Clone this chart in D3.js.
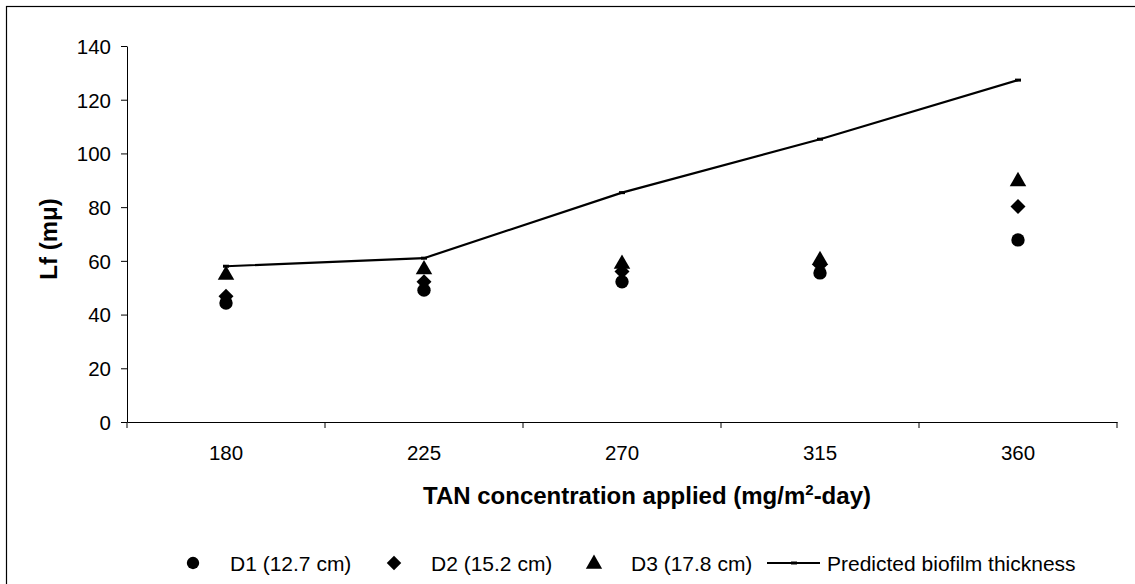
<!DOCTYPE html>
<html><head><meta charset="utf-8">
<script src="https://d3js.org/d3.v7.min.js"></script>
<style>body{margin:0;background:#fff;} text{font-family:"Liberation Sans",Arial,sans-serif;}</style>
</head><body>
<svg id="c" width="1135" height="584"></svg>
<script>
const categories = ["180","225","270","315","360"];
const d1 = [44.3, 49.1, 52.2, 55.5, 67.8];
const d2 = [46.8, 52.2, 56.0, 58.5, 80.2];
const d3v = [54.7, 56.8, 58.8, 60.2, 89.6];
const predicted = [58.0, 61.0, 85.4, 105.3, 127.3];
const yTicks = [0,20,40,60,80,100,120,140];
const seriesNames = ["D1 (12.7 cm)","D2 (15.2 cm)","D3 (17.8 cm)","Predicted biofilm thickness"];

const svg = d3.select("#c");
svg.append("rect").attr("x",6.5).attr("y",6.5).attr("width",1140).attr("height",600)
  .attr("fill","#fff").attr("stroke","#000").attr("stroke-width",1.2);

const L=127, R=1117, T=46, B=422;
const x = d3.scaleBand().domain(categories).range([L,R]);
const y = d3.scaleLinear().domain([0,140]).range([B,T]);
const cx = c => x(c)+x.bandwidth()/2;

// y axis
const ya = svg.append("g").attr("transform",`translate(${L},0)`)
  .call(d3.axisLeft(y).tickValues(yTicks).tickSize(6).tickSizeOuter(0));
ya.select(".domain").attr("stroke","#000");
ya.selectAll(".tick line").attr("stroke","#000");
ya.selectAll(".tick text").attr("font-size",20.5).attr("font-family","Liberation Sans, Arial, sans-serif")
  .attr("fill","#000").attr("x",-16).attr("dy","0.36em");

// x axis
const xa = svg.append("g").attr("transform",`translate(0,${B})`)
  .call(d3.axisBottom(x).tickSize(0).tickSizeOuter(0));
xa.select(".domain").attr("stroke","#000");
xa.selectAll(".tick text").attr("font-size",20.5).attr("font-family","Liberation Sans, Arial, sans-serif")
  .attr("fill","#000").attr("y",0).attr("dy","0").attr("transform","translate(0,38)");
// boundary ticks
const bounds = categories.map(c=>x(c)).concat([R]);
svg.append("g").selectAll("line").data(bounds).join("line")
  .attr("x1",d=>d).attr("x2",d=>d).attr("y1",B).attr("y2",B+6).attr("stroke","#000");

// titles
svg.append("text").attr("x",647).attr("y",504).attr("text-anchor","middle")
  .attr("font-size",24).attr("font-weight","bold")
  .html('TAN concentration applied (mg/m<tspan dy="-9" font-size="15">2</tspan><tspan dy="9">-day)</tspan>');
svg.append("text").attr("transform","translate(57,239) rotate(-90)").attr("text-anchor","middle")
  .attr("font-size",24).attr("font-weight","bold").text("Lf (mμ)");

// predicted line
const line = d3.line().x((d,i)=>cx(categories[i])).y(d=>y(d));
svg.append("path").datum(predicted).attr("d",line).attr("fill","none").attr("stroke","#000").attr("stroke-width",2.2);
svg.append("g").selectAll("line").data(predicted).join("line")
  .attr("x1",(d,i)=>cx(categories[i])-3).attr("x2",(d,i)=>cx(categories[i])+3)
  .attr("y1",d=>y(d)).attr("y2",d=>y(d)).attr("stroke","#000").attr("stroke-width",3);

// markers
const circ = d3.symbol().type(d3.symbolCircle).size(140)();
const diam = d3.symbol().type(d3.symbolSquare).size(112)();
const tri = d3.symbol().type(d3.symbolTriangle).size(118)();
function draw(data, path, rot){
  svg.append("g").selectAll("path").data(data).join("path")
    .attr("d",path).attr("fill","#000")
    .attr("transform",(d,i)=>`translate(${cx(categories[i])},${y(d)}) rotate(${rot})`);
}
draw(d1,circ,0);
draw(d2,diam,45);
draw(d3v,tri,0);

// legend
const ly = 563;
const lg = svg.append("g");
const lcirc = d3.symbol().type(d3.symbolCircle).size(120)();
const ldiam = d3.symbol().type(d3.symbolSquare).size(105)();
const ltri = d3.symbol().type(d3.symbolTriangle).size(115)();
lg.append("path").attr("d",lcirc).attr("transform",`translate(193,${ly})`);
lg.append("path").attr("d",ldiam).attr("transform",`translate(394,${ly}) rotate(45)`);
lg.append("path").attr("d",ltri).attr("transform",`translate(594,${ly+1})`);
lg.append("line").attr("x1",767).attr("x2",820).attr("y1",ly).attr("y2",ly).attr("stroke","#000").attr("stroke-width",2.2);
lg.append("line").attr("x1",791).attr("x2",797).attr("y1",ly).attr("y2",ly).attr("stroke","#000").attr("stroke-width",3);
const lx = [230,431,631,827];
lg.selectAll("text").data(seriesNames).join("text")
  .attr("x",(d,i)=>lx[i]).attr("y",ly).attr("dy","0.36em").attr("font-size",21).text(d=>d);
</script>
</body></html>
